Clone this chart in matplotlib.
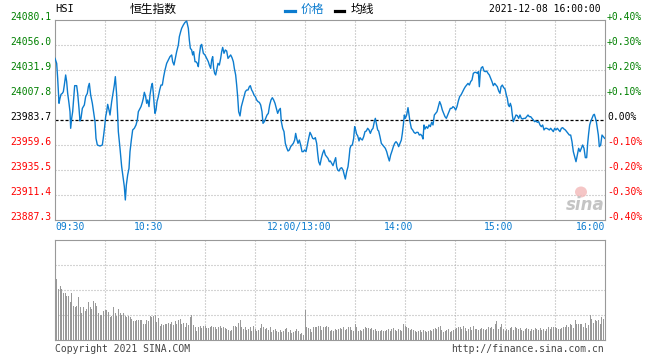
import matplotlib
matplotlib.use("Agg")
import matplotlib.pyplot as plt
from matplotlib.patches import Ellipse

plt.rcParams["lines.scale_dashes"] = False

# ---- data ----
prev_close = 23983.7
price_ticks = [24080.1, 24056.0, 24031.9, 24007.8, 23983.7, 23959.6, 23935.5, 23911.4, 23887.3]
pct_labels = ["+0.40%", "+0.30%", "+0.20%", "+0.10%", "0.00%", "-0.10%", "-0.20%", "-0.30%", "-0.40%"]
time_ticks = [0, 60, 150, 210, 270, 330]
time_labels = ["09:30", "10:30", "12:00/13:00", "14:00", "15:00", "16:00"]

# (trading minute since 09:30, index level)
price_points = [
    (0.0, 24043.1), (1.0, 24038.3), (1.6, 24023.9), (2.4, 23999.8), (3.0, 24004.6), (3.6, 24008.4),
    (4.4, 24009.4), (5.0, 24011.0), (5.6, 24017.4), (6.4, 24027.1), (7.0, 24020.7), (7.6, 24009.4),
    (8.4, 23999.8), (9.0, 23991.7), (9.4, 23975.7), (10.0, 23985.3), (10.6, 23991.7), (11.2, 24004.6),
    (11.8, 24016.8), (13.0, 24016.8), (13.6, 24009.4), (14.4, 23994.9), (15.0, 23982.7), (15.6, 23985.3),
    (16.4, 23994.9), (17.6, 23998.2), (18.4, 24006.2), (19.4, 24009.4), (20.0, 24015.8), (20.6, 24019.0),
    (21.4, 24007.8), (22.4, 23999.8), (23.4, 23988.5), (24.0, 23982.1), (24.6, 23966.0), (25.4, 23959.6),
    (27.0, 23958.6), (28.4, 23959.6), (29.2, 23969.2), (29.8, 23977.3), (30.4, 23986.9), (31.0, 23991.7),
    (31.6, 23998.8), (32.4, 23993.3), (33.0, 23988.5), (34.0, 24001.4), (34.8, 24009.4), (35.6, 24017.4),
    (36.2, 24025.5), (37.0, 24007.8), (37.6, 23988.5), (38.0, 23972.5), (39.0, 23956.4), (40.0, 23938.7),
    (40.8, 23929.1), (41.6, 23919.4), (42.2, 23906.6), (42.8, 23921.0), (43.6, 23930.7), (44.4, 23937.1),
    (45.0, 23953.2), (45.8, 23964.4), (46.6, 23974.1), (47.6, 23975.7), (48.6, 23978.9), (49.4, 23983.7),
    (50.0, 23991.7), (51.0, 23994.9), (51.6, 23996.6), (52.4, 24000.7), (53.0, 24004.6), (53.6, 24010.4),
    (54.4, 24006.2), (55.0, 23999.8), (55.6, 24003.0), (56.4, 23996.6), (57.0, 24007.8), (57.8, 24015.8),
    (58.4, 24019.0), (59.0, 24009.4), (59.6, 23996.6), (60.0, 23990.1), (60.6, 23993.3), (61.2, 24001.4),
    (62.0, 24006.2), (62.8, 24012.6), (63.6, 24017.4), (64.4, 24017.4), (65.2, 24025.5), (66.0, 24031.9),
    (67.0, 24038.3), (68.0, 24041.5), (69.0, 24044.8), (70.0, 24046.4), (70.6, 24039.9), (71.4, 24036.7),
    (72.0, 24041.5), (73.0, 24049.6), (74.0, 24056.0), (74.6, 24064.0), (75.4, 24068.9), (76.0, 24072.1),
    (77.0, 24075.3), (78.0, 24077.8), (79.0, 24079.1), (80.0, 24072.1), (80.6, 24060.8), (81.2, 24052.8),
    (82.0, 24051.2), (82.6, 24046.4), (83.2, 24049.6), (84.0, 24039.9), (84.6, 24039.9), (85.4, 24038.3),
    (86.0, 24035.1), (86.6, 24046.4), (87.4, 24055.4), (88.0, 24056.6), (89.0, 24048.0), (90.0, 24046.4),
    (91.0, 24043.1), (92.0, 24039.9), (92.6, 24036.7), (93.4, 24033.5), (94.0, 24041.5), (94.6, 24044.8),
    (95.2, 24033.5), (95.8, 24028.7), (96.4, 24027.1), (97.0, 24031.9), (97.8, 24038.3), (98.6, 24036.7),
    (99.4, 24043.1), (100.0, 24049.6), (100.6, 24053.7), (101.4, 24048.0), (102.2, 24051.2), (103.0, 24050.2),
    (103.8, 24043.1), (104.6, 24044.8), (105.4, 24046.4), (106.2, 24043.8), (107.0, 24039.9), (107.6, 24033.5),
    (108.4, 24027.1), (109.0, 24017.4), (109.6, 24006.2), (110.2, 23991.7), (111.0, 23987.6), (111.8, 23996.6),
    (112.6, 24001.4), (113.4, 24006.2), (114.2, 24011.0), (115.0, 24012.6), (115.8, 24012.6), (116.6, 24015.8),
    (117.2, 24016.8), (118.0, 24012.6), (118.6, 24011.0), (119.4, 24007.8), (120.2, 24006.2), (121.0, 24003.0),
    (121.8, 24001.4), (122.6, 24000.7), (123.4, 23998.2), (124.2, 23991.7), (124.8, 23980.5), (125.6, 23982.1),
    (126.4, 23985.3), (127.2, 23988.5), (128.0, 23990.1), (128.8, 23998.2), (129.6, 24003.0), (130.4, 24005.2),
    (131.2, 24003.0), (132.0, 23999.8), (132.8, 23994.9), (133.6, 23990.1), (134.4, 23993.3), (135.2, 23994.9),
    (135.8, 23982.1), (136.6, 23975.7), (137.4, 23972.5), (138.2, 23961.2), (139.0, 23957.0), (139.8, 23953.8),
    (140.6, 23954.8), (141.4, 23958.0), (142.2, 23959.6), (143.0, 23961.2), (143.8, 23964.4), (144.4, 23970.8),
    (145.0, 23966.0), (145.8, 23961.2), (146.6, 23964.4), (147.4, 23959.6), (148.2, 23953.2), (149.0, 23953.2),
    (149.8, 23954.8), (150.6, 23953.2), (151.4, 23959.6), (152.2, 23966.0), (153.0, 23971.8), (153.8, 23969.2),
    (154.6, 23966.0), (155.4, 23965.4), (156.2, 23966.7), (157.0, 23961.2), (157.6, 23951.6), (158.2, 23943.5),
    (159.0, 23940.3), (159.8, 23946.7), (160.6, 23951.6), (161.4, 23954.8), (162.2, 23950.0), (163.0, 23948.4),
    (163.8, 23946.7), (164.6, 23943.5), (165.2, 23944.2), (166.0, 23941.9), (166.8, 23939.7), (167.6, 23943.5),
    (168.4, 23947.4), (169.0, 23938.7), (169.6, 23935.5), (170.4, 23934.5), (171.2, 23937.1), (172.0, 23937.7),
    (172.8, 23935.5), (173.6, 23930.7), (174.2, 23926.8), (175.0, 23933.9), (175.8, 23938.7), (176.4, 23946.7),
    (177.0, 23956.4), (177.6, 23959.0), (178.4, 23959.6), (179.2, 23966.0), (179.8, 23977.3), (180.4, 23974.1),
    (181.0, 23969.9), (181.6, 23968.6), (182.4, 23963.5), (183.0, 23966.7), (183.6, 23965.4), (184.4, 23964.4),
    (185.2, 23967.6), (186.0, 23972.5), (186.8, 23973.1), (187.6, 23975.7), (188.4, 23974.1), (189.2, 23970.8),
    (190.0, 23974.1), (190.8, 23975.7), (191.6, 23982.1), (192.2, 23985.3), (193.0, 23978.9), (193.6, 23974.1),
    (194.2, 23973.1), (195.0, 23967.6), (195.8, 23961.2), (196.6, 23959.6), (197.4, 23958.0), (198.2, 23956.4),
    (199.0, 23953.2), (199.8, 23948.4), (200.6, 23944.2), (201.4, 23950.0), (202.2, 23953.8), (203.0, 23958.0),
    (203.8, 23961.2), (204.6, 23962.8), (205.4, 23961.2), (206.2, 23958.0), (207.0, 23961.2), (207.8, 23964.4),
    (208.4, 23970.8), (209.0, 23978.9), (209.6, 23988.5), (210.2, 23985.3), (211.0, 23988.5), (211.8, 23995.6),
    (212.4, 23988.5), (213.0, 23982.1), (213.8, 23975.7), (214.6, 23974.1), (215.4, 23971.8), (216.2, 23970.8),
    (217.0, 23971.8), (217.8, 23971.8), (218.6, 23969.2), (219.4, 23969.9), (220.2, 23968.3), (220.8, 23965.4),
    (221.4, 23978.9), (222.0, 23975.0), (222.8, 23977.3), (223.6, 23975.7), (224.4, 23978.9), (225.2, 23977.3),
    (226.0, 23981.5), (226.8, 23978.9), (227.6, 23988.5), (228.4, 23990.1), (229.2, 23991.7), (230.0, 23996.6),
    (230.8, 24001.4), (231.6, 23998.2), (232.4, 23993.3), (233.2, 23990.1), (234.0, 23986.9), (234.8, 23985.3),
    (235.6, 23988.5), (236.4, 23991.7), (237.2, 23994.9), (238.0, 23994.9), (238.8, 23996.6), (239.6, 23995.6),
    (240.4, 23993.3), (241.2, 23996.6), (242.0, 24002.0), (242.8, 24006.2), (243.8, 24008.4), (244.6, 24011.0),
    (245.4, 24013.6), (246.2, 24015.8), (247.0, 24017.4), (247.8, 24019.0), (248.6, 24017.4), (249.4, 24020.7),
    (250.2, 24022.3), (251.0, 24028.7), (251.8, 24029.6), (252.6, 24029.6), (253.4, 24028.7), (254.0, 24030.3),
    (254.6, 24015.8), (255.2, 24030.3), (255.8, 24034.1), (256.6, 24035.1), (257.4, 24030.9), (258.2, 24030.3),
    (259.0, 24030.9), (259.8, 24028.7), (260.6, 24027.1), (261.4, 24023.9), (262.2, 24020.7), (263.0, 24016.8),
    (263.8, 24019.0), (264.6, 24017.4), (265.4, 24015.8), (266.2, 24011.7), (267.0, 24009.4), (267.6, 24015.8),
    (268.4, 24017.4), (269.2, 24014.9), (270.0, 24013.6), (270.8, 24007.8), (271.4, 24004.6), (272.0, 23998.2),
    (272.6, 23996.6), (273.2, 23999.8), (273.8, 23996.6), (274.4, 23988.5), (275.0, 23982.1), (275.8, 23985.3),
    (276.6, 23988.5), (277.4, 23987.9), (278.2, 23985.3), (279.0, 23988.5), (279.8, 23985.3), (280.6, 23984.7),
    (281.4, 23985.3), (282.2, 23985.3), (283.0, 23986.9), (283.8, 23988.5), (284.6, 23986.9), (285.4, 23986.9),
    (286.2, 23985.3), (287.0, 23983.7), (287.8, 23982.1), (288.6, 23982.7), (289.4, 23981.5), (290.2, 23982.1),
    (291.0, 23978.9), (291.8, 23977.3), (292.6, 23978.9), (293.4, 23974.1), (294.2, 23975.7), (295.0, 23975.7),
    (295.8, 23975.0), (296.6, 23974.1), (297.4, 23975.7), (298.2, 23974.1), (299.0, 23972.5), (299.8, 23975.7),
    (300.6, 23974.1), (301.4, 23975.7), (302.2, 23974.1), (303.0, 23972.5), (303.8, 23975.7), (304.6, 23976.3),
    (305.4, 23975.0), (306.2, 23974.1), (307.0, 23972.5), (307.8, 23970.8), (308.6, 23969.2), (309.4, 23969.2),
    (310.2, 23962.8), (311.0, 23953.2), (311.8, 23948.4), (312.6, 23943.5), (313.4, 23950.0), (314.2, 23956.4),
    (315.0, 23953.2), (315.8, 23956.4), (316.6, 23959.6), (317.4, 23956.4), (318.2, 23947.4), (319.0, 23947.4),
    (319.6, 23961.2), (320.2, 23970.8), (320.8, 23978.9), (321.4, 23982.1), (322.2, 23985.3), (323.0, 23988.5),
    (323.6, 23989.2), (324.2, 23985.9), (324.8, 23982.1), (325.4, 23975.7), (326.0, 23969.2), (326.6, 23958.0),
    (327.4, 23959.6), (328.2, 23969.2), (329.0, 23967.6), (329.8, 23966.0),
]

# per-minute volume bars (minute 1..330), arbitrary units, panel top = 100
volume = [
    61, 51, 54, 51, 47, 47, 44, 44, 38, 47, 34, 33, 34, 43, 33, 27, 33, 29, 31, 38,
    33, 31, 39, 37, 34, 27, 25, 25, 29, 30, 30, 28, 23, 24, 33, 27, 24, 31, 27, 25,
    27, 24, 23, 24, 23, 21, 19, 19, 20, 20, 20, 20, 16, 16, 20, 19, 24, 23, 24, 25,
    18, 22, 14, 16, 15, 16, 16, 17, 16, 18, 15, 19, 16, 20, 21, 16, 17, 13, 17, 15,
    23, 25, 15, 13, 9, 13, 14, 12, 14, 14, 12, 12, 13, 14, 13, 13, 11, 13, 14, 12,
    13, 12, 11, 10, 9, 10, 14, 14, 13, 17, 20, 13, 11, 13, 10, 11, 13, 9, 14, 11,
    9, 10, 12, 16, 13, 11, 12, 10, 13, 8, 10, 11, 9, 8, 10, 8, 9, 11, 12, 8,
    10, 7, 8, 9, 11, 9, 6, 7, 5, 30, 13, 12, 11, 8, 13, 13, 13, 14, 14, 10,
    13, 13, 14, 13, 9, 10, 9, 11, 10, 11, 12, 11, 13, 10, 11, 13, 13, 10, 9, 16,
    13, 9, 10, 9, 11, 13, 12, 12, 11, 12, 10, 11, 9, 9, 9, 10, 9, 9, 10, 11,
    9, 11, 12, 10, 9, 11, 10, 9, 16, 14, 13, 12, 10, 11, 10, 9, 8, 9, 10, 8,
    10, 9, 8, 9, 10, 9, 11, 12, 11, 13, 14, 10, 8, 9, 10, 11, 8, 9, 10, 11,
    12, 13, 13, 11, 14, 12, 9, 11, 13, 10, 14, 11, 11, 10, 11, 12, 11, 10, 11, 13,
    12, 13, 11, 16, 19, 11, 13, 16, 11, 9, 11, 10, 12, 13, 10, 13, 12, 11, 12, 10,
    9, 11, 12, 11, 9, 11, 10, 12, 11, 10, 12, 10, 11, 9, 11, 13, 11, 13, 13, 13,
    12, 11, 11, 12, 13, 13, 15, 13, 16, 15, 12, 20, 16, 16, 16, 16, 13, 17, 12, 15,
    25, 21, 17, 20, 19, 20, 16, 23, 21, 25,
]

# ---- style ----
W, H = 660, 360
mono = "DejaVu Sans Mono"
cjk = ["Noto Sans CJK SC", "DejaVu Sans"]
fs = 7
blue = "#0c7ccf"
green = "#008000"
red = "#ff0000"
frame = "#999999"
gridc = "#aaaaaa"
dot = (0, (0.72, 1.44))

fig = plt.figure(figsize=(W / 100, H / 100), dpi=100)
ax = fig.add_axes([55 / W, 140 / H, 550 / W, 200 / H])
vax = fig.add_axes([55 / W, 20 / H, 550 / W, 100 / H])

for a in (ax, vax):
    a.set_xlim(0, 330)
    a.set_xticks([])
    a.set_yticks([])
    for s in a.spines.values():
        s.set_color(frame)
        s.set_linewidth(0.8)
    for m in range(30, 330, 30):
        a.axvline(m, color=gridc, lw=0.8, ls=dot, zorder=0)

# price panel
ax.set_ylim(price_ticks[-1], price_ticks[0])
for v in price_ticks[1:-1]:
    if v == prev_close:
        ax.axhline(v, color="black", lw=0.9, ls=(0, (2.2, 1.4)), zorder=1)
    else:
        ax.axhline(v, color=gridc, lw=0.8, ls=dot, zorder=0)

xs = [p[0] for p in price_points]
ys = [p[1] for p in price_points]
ax.plot(xs, ys, color=blue, lw=1.0, zorder=3)

for v, pl in zip(price_ticks, pct_labels):
    c = green if v > prev_close else (red if v < prev_close else "black")
    ax.annotate(f"{v:.1f}", xy=(0, v), xycoords=("axes fraction", "data"),
                xytext=(-4, 3), textcoords="offset pixels", ha="right", va="center",
                fontsize=fs, family=mono, color=c)
    ax.annotate(pl, xy=(1, v), xycoords=("axes fraction", "data"),
                xytext=(2, 3), textcoords="offset pixels", ha="left", va="center",
                fontsize=fs, family=mono, color=c)

for t, lab in zip(time_ticks, time_labels):
    if t == 0:
        ha, dx = "left", 0
    elif t == 330:
        ha, dx = "right", 0
    else:
        ha, dx = "center", -6
    ax.annotate(lab, xy=(t, 0), xycoords=("data", "axes fraction"),
                xytext=(dx, -7), textcoords="offset pixels", ha=ha, va="center",
                fontsize=fs, family=mono, color=blue)

# volume panel
vax.set_ylim(0, 100)
for v in (25, 50, 75):
    vax.axhline(v, color=gridc, lw=0.8, ls=dot, zorder=0)
vax.bar(range(1, len(volume) + 1), volume, width=0.6, color="#999999", zorder=2)

# header
fig.text(55 / W, 1 - 9 / H, "HSI", fontsize=fs + 0.5, family=mono, va="center", ha="left")
fig.text(130 / W, 1 - 9.5 / H, "恒生指数", fontsize=8.5, family=cjk, va="center", ha="left")
fig.add_artist(plt.Line2D([285 / W, 295 / W], [1 - 11 / H, 1 - 11 / H], color=blue, lw=2.3,
                          transform=fig.transFigure))
fig.text(301 / W, 1 - 9.5 / H, "价格", fontsize=8.5, family=cjk, va="center", ha="left", color=blue)
fig.add_artist(plt.Line2D([335 / W, 344 / W], [1 - 11 / H, 1 - 11 / H], color="black", lw=2.3,
                          transform=fig.transFigure))
fig.text(351 / W, 1 - 9.5 / H, "均线", fontsize=8.5, family=cjk, va="center", ha="left")
fig.text(601 / W, 1 - 9 / H, "2021-12-08 16:00:00", fontsize=fs, family=mono, va="center", ha="right")

# footer
fig.text(55 / W, 1 - 349 / H, "Copyright 2021 SINA.COM", fontsize=fs, family=mono,
         va="center", ha="left", color="#444444")
fig.text(604 / W, 1 - 349 / H, "http://finance.sina.com.cn", fontsize=fs, family=mono,
         va="center", ha="right", color="#444444")

# sina watermark
fig.add_artist(Ellipse((581 / W, 1 - 192 / H), 12 / W, 11 / H, transform=fig.transFigure,
                       facecolor="#f3b8b8", edgecolor="none", alpha=0.8))
fig.text(585 / W, 1 - 205 / H, "sina", fontsize=12, style="italic", weight="bold",
         color="#c4c4c4", va="center", ha="center")

fig.savefig("out.png", dpi=100)
